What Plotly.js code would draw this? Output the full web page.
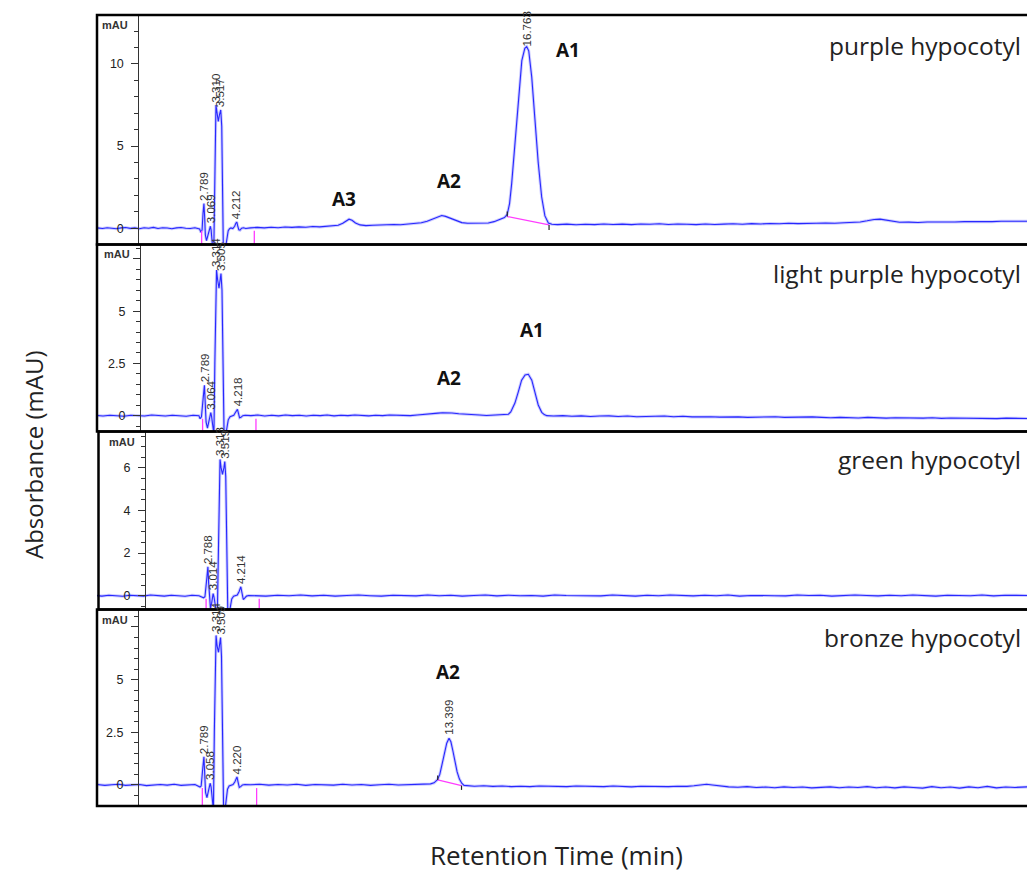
<!DOCTYPE html>
<html><head><meta charset="utf-8">
<script src="https://cdn.plot.ly/plotly-3.0.1.min.js"></script>
<style>html,body{margin:0;padding:0;background:#fff}</style>
</head><body>
<div id="chart" style="width:1027px;height:874px"></div>
<script>
// ---------------- DATA ----------------
const sampleNames = ['purple hypocotyl', 'light purple hypocotyl', 'green hypocotyl', 'bronze hypocotyl'];

// Panel 1: purple hypocotyl (time in min, absorbance in mAU)
const p1T = [-1.84,-1.6,-1.4,-1.2,-1.0,-0.8,-0.6,-0.4,-0.2,0,0.2,0.4,0.6,0.8,1.0,1.2,1.4,1.6,1.8,2.0,2.2,2.4,2.6,
  2.66,2.71,2.75,2.789,2.82,2.85,2.9,2.95,3.0,3.04,3.069,3.1,3.14,3.18,3.22,3.25,3.28,3.31,3.35,3.41,3.46,3.517,3.56,3.6,3.63,3.68,3.73,3.78,3.84,3.9,3.96,4.04,4.12,4.17,4.212,4.25,4.3,4.35,4.42,4.5,4.6,
  4.8,5.1,5.4,5.7,6.0,6.3,6.6,6.9,7.2,7.5,7.8,8.1,8.4,
  8.6,8.8,8.95,9.07,9.2,9.35,9.55,9.8,
  10.1,10.4,10.7,11.0,11.3,11.6,11.9,12.2,
  12.45,12.7,12.9,13.08,13.25,13.45,13.7,13.95,14.2,
  14.5,14.8,15.1,15.35,15.6,15.8,
  15.92,16.02,16.11,16.26,16.40,16.55,16.68,16.763,16.85,16.98,17.12,17.26,17.41,17.55,17.7,17.85,
  18.1,18.5,18.9,19.3,19.7,20.1,20.5,20.9,21.3,21.7,22.1,22.5,22.9,23.3,23.7,24.1,24.5,24.9,25.3,25.7,26.1,26.5,26.9,27.3,27.7,28.1,28.5,28.9,29.3,29.7,30.1,30.5,30.9,
  31.2,31.5,31.8,32.06,32.3,32.6,32.9,
  33.3,33.7,34.1,34.5,34.9,35.3,35.7,36.1,36.5,36.9,37.3,37.7,38.1,38.5];
const p1A = [0.02,-0.02,0.03,0.0,-0.03,0.02,0.04,-0.01,0.02,-0.03,0.03,0.0,0.05,-0.02,0.03,0.01,-0.03,0.02,0.04,0.0,-0.02,0.03,-0.05,
  -0.25,-0.1,0.9,1.5,0.7,-0.4,-0.75,-0.5,-0.1,0.08,0.12,-0.1,-0.8,-1.4,-1.0,3.0,6.6,7.5,7.1,6.5,6.9,7.2,6.2,2.5,-1.3,-1.6,-1.1,-0.5,-0.15,-0.03,0.02,-0.02,0.12,0.3,0.38,0.15,-0.1,-0.12,0.0,0.03,-0.02,
  0.02,0.05,0.02,0.06,0.03,0.07,0.05,0.08,0.06,0.1,0.08,0.12,0.14,
  0.18,0.3,0.47,0.55,0.48,0.32,0.2,0.16,
  0.18,0.2,0.19,0.23,0.21,0.25,0.27,0.33,
  0.42,0.56,0.7,0.77,0.72,0.6,0.45,0.34,0.3,
  0.31,0.28,0.32,0.4,0.52,0.65,
  0.85,1.5,2.7,5.2,8.0,10.2,10.95,11.05,10.8,9.2,6.6,4.0,1.9,0.75,0.32,0.24,
  0.22,0.25,0.21,0.24,0.22,0.26,0.23,0.25,0.22,0.26,0.24,0.27,0.23,0.26,0.24,0.22,0.26,0.23,0.25,0.27,0.24,0.28,0.26,0.29,0.27,0.3,0.28,0.31,0.3,0.32,0.3,0.33,0.34,
  0.38,0.45,0.53,0.55,0.5,0.4,0.36,
  0.37,0.35,0.38,0.37,0.39,0.38,0.4,0.39,0.41,0.4,0.42,0.41,0.42,0.42];

// Panel 2: light purple hypocotyl
const p2T = [-1.9,-1.6,-1.3,-1.0,-0.7,-0.4,-0.1,0.2,0.5,0.8,1.1,1.4,1.7,2.0,2.3,2.55,
  2.6,2.66,2.74,2.789,2.82,2.86,2.92,2.98,3.03,3.064,3.1,3.15,3.2,3.24,3.28,3.314,3.36,3.42,3.47,3.505,3.55,3.6,3.64,3.7,3.76,3.82,3.9,3.98,4.06,4.13,4.218,4.26,4.31,4.37,4.45,4.55,
  4.8,5.1,5.4,5.7,6.0,6.3,6.6,6.9,7.2,7.5,7.8,8.1,8.4,8.7,9.0,9.3,9.6,9.9,10.2,10.5,10.8,11.1,11.4,11.7,12.0,
  12.3,12.6,12.9,13.1,13.28,13.5,13.8,14.1,14.4,14.7,15.0,15.3,15.6,15.85,
  15.95,16.05,16.15,16.23,16.38,16.52,16.67,16.81,16.96,17.1,17.24,17.39,17.5,17.61,
  17.9,18.3,18.7,19.1,19.5,19.9,20.3,20.7,21.1,21.5,21.9,22.3,22.7,23.1,23.5,23.9,24.3,24.7,25.1,25.5,25.9,26.3,26.7,27.1,27.5,27.9,28.3,28.7,29.1,29.5,29.9,30.3,30.7,31.1,31.5,31.9,32.3,32.7,33.1,33.5,33.9,34.3,34.7,35.1,35.5,35.9,36.3,36.7,37.1,37.5,37.9,38.5];
const p2A = [0.01,-0.02,0.02,0.0,-0.03,0.02,0.01,-0.02,0.03,0.0,-0.02,0.02,0.01,-0.03,0.02,0.0,
  -0.15,-0.05,0.9,1.45,0.7,-0.3,-0.6,-0.3,0.05,0.15,-0.05,-0.6,-0.9,2.5,6.2,6.97,6.5,6.1,6.5,6.8,6.0,2.5,-0.9,-1.0,-0.6,-0.2,-0.05,0.0,0.02,0.15,0.3,0.12,-0.1,-0.08,0.0,0.02,
  0.0,0.03,-0.02,0.02,-0.01,0.03,0.0,0.02,-0.02,0.02,0.0,0.03,-0.01,0.02,0.0,0.03,0.01,-0.01,0.02,0.0,0.03,0.01,0.02,0.0,0.03,
  0.05,0.08,0.12,0.14,0.15,0.13,0.09,0.06,0.04,0.03,0.01,0.03,0.02,0.05,
  0.07,0.18,0.38,0.6,1.15,1.7,1.95,1.98,1.7,1.07,0.51,0.16,0.05,0.0,
  -0.02,0.0,-0.03,-0.01,-0.04,-0.02,-0.01,-0.04,-0.02,-0.05,-0.03,-0.04,-0.02,-0.05,-0.03,-0.06,-0.04,-0.05,-0.07,-0.05,-0.06,-0.08,-0.06,-0.07,-0.05,-0.08,-0.07,-0.09,-0.06,-0.08,-0.1,-0.08,-0.09,-0.11,-0.08,-0.1,-0.12,-0.1,-0.11,-0.09,-0.12,-0.1,-0.13,-0.11,-0.12,-0.1,-0.13,-0.12,-0.14,-0.12,-0.13,-0.14];

// Panel 3: green hypocotyl
const p3T = [-2.1,-1.8,-1.5,-1.2,-0.9,-0.6,-0.3,0,0.3,0.6,0.9,1.2,1.5,1.8,2.1,2.4,2.6,
  2.66,2.74,2.788,2.82,2.86,2.9,2.95,2.99,3.014,3.05,3.1,3.16,3.2,3.24,3.28,3.313,3.36,3.42,3.48,3.519,3.56,3.61,3.65,3.7,3.76,3.82,3.9,3.98,4.06,4.14,4.214,4.26,4.32,4.38,4.46,4.55,
  4.8,5.3,5.8,6.3,6.8,7.3,7.8,8.3,8.8,9.3,9.8,10.3,10.8,11.3,11.8,12.3,12.8,13.3,13.8,14.3,14.8,15.3,15.8,16.3,16.8,17.3,17.8,18.3,18.8,19.3,19.8,20.3,20.8,21.3,21.8,22.3,22.8,23.3,23.8,24.3,24.8,25.3,25.8,26.3,26.8,27.3,27.8,28.3,28.8,29.3,29.8,30.3,30.8,31.3,31.8,32.3,32.8,33.3,33.8,34.3,34.8,35.3,35.8,36.3,36.8,37.3,37.8,38.3];
const p3A = [0.01,-0.02,0.02,0.0,-0.03,0.02,0.01,-0.02,0.03,0.0,-0.02,0.02,0.01,-0.03,0.02,0.0,-0.1,
  -0.05,0.8,1.36,0.6,-0.3,-0.6,-0.35,0.02,0.1,-0.05,-0.5,-0.8,-0.6,2.5,5.7,6.4,6.0,5.7,6.0,6.3,5.6,2.0,-0.8,-0.9,-0.55,-0.15,-0.02,0.0,0.03,0.2,0.42,0.15,-0.18,-0.12,-0.02,0.01,
  0.01,-0.02,0.02,0.0,0.03,-0.01,0.02,-0.02,0.01,0.03,0.0,-0.02,0.02,0.01,-0.01,0.03,0.0,0.02,-0.02,0.01,0.03,-0.01,0.02,0.0,0.01,-0.02,0.03,0.01,0.0,0.02,-0.01,0.03,0.01,-0.02,0.02,0.0,0.03,0.01,-0.01,0.02,0.0,0.03,-0.02,0.01,0.02,0.0,-0.01,0.03,0.01,0.02,-0.02,0.0,0.03,0.01,-0.01,0.02,0.0,0.03,0.01,-0.02,0.02,0.01,0.0,0.03,-0.01,0.02,0.0,0.01];

// Panel 4: bronze hypocotyl
const p4T = [-1.84,-1.5,-1.2,-0.9,-0.6,-0.3,0,0.3,0.6,0.9,1.2,1.5,1.8,2.1,2.4,2.62,
  2.67,2.74,2.789,2.82,2.86,2.92,2.97,3.02,3.058,3.1,3.15,3.2,3.24,3.28,3.314,3.36,3.42,3.47,3.509,3.55,3.6,3.64,3.7,3.75,3.81,3.88,3.96,4.05,4.13,4.22,4.27,4.32,4.38,4.46,4.56,
  4.8,5.2,5.6,6.0,6.4,6.8,7.2,7.6,8.0,8.4,8.8,9.2,9.6,10.0,10.4,10.8,11.2,11.6,12.0,12.3,
  12.6,12.75,12.9,13.0,13.1,13.2,13.3,13.399,13.48,13.57,13.66,13.75,13.85,13.95,14.05,14.2,
  14.5,14.9,15.3,15.7,16.1,16.5,16.9,17.3,17.7,18.1,18.5,18.9,19.3,19.7,20.1,20.5,20.9,21.3,21.7,22.1,22.5,22.9,23.3,23.7,
  24.0,24.3,24.55,24.8,25.1,
  25.5,25.9,26.3,26.7,27.1,27.5,27.9,28.3,28.7,29.1,29.5,29.9,30.3,30.7,31.1,31.5,31.9,32.3,32.7,33.1,33.5,33.9,34.3,34.7,35.1,35.5,35.9,36.3,36.7,37.1,37.5,37.9,38.5];
const p4A = [0.02,-0.02,0.01,0.03,-0.02,0.0,0.02,-0.03,0.01,0.02,-0.01,0.03,-0.02,0.01,0.02,-0.1,
  -0.05,0.8,1.34,0.6,-0.35,-0.6,-0.3,0.02,0.08,-0.1,-0.9,-1.2,2.5,6.3,7.1,6.6,6.3,6.7,7.0,6.1,2.5,-1.1,-1.2,-0.7,-0.2,-0.05,0.0,0.02,0.15,0.38,0.12,-0.12,-0.08,0.0,0.02,
  0.01,0.03,-0.01,0.02,0.0,0.03,-0.02,0.02,0.01,-0.01,0.03,0.0,0.02,-0.02,0.01,0.03,0.0,0.02,0.01,0.03,
  0.05,0.1,0.25,0.5,0.95,1.5,1.98,2.22,2.05,1.6,1.1,0.62,0.28,0.08,-0.02,-0.04,
  -0.06,-0.04,-0.07,-0.05,-0.08,-0.06,-0.08,-0.05,-0.07,-0.06,-0.08,-0.05,-0.07,-0.06,-0.08,-0.05,-0.07,-0.09,-0.06,-0.07,-0.05,-0.08,-0.06,-0.07,
  -0.04,0.0,0.03,0.0,-0.05,
  -0.09,-0.11,-0.08,-0.12,-0.1,-0.13,-0.09,-0.12,-0.1,-0.14,-0.11,-0.09,-0.13,-0.1,-0.12,-0.08,-0.13,-0.1,-0.14,-0.09,-0.12,-0.15,-0.08,-0.13,-0.1,-0.15,-0.09,-0.13,-0.07,-0.14,-0.1,-0.12,-0.09];

// Peak retention-time labels
const p1PeakT = [2.789, 3.069, 3.310, 3.517, 4.212, 16.763];
const p1PeakA = [1.5, 0.12, 7.5, 7.2, 0.38, 10.9];
const p2PeakT = [2.789, 3.064, 3.314, 3.505, 4.218];
const p2PeakA = [1.45, 0.15, 6.97, 6.8, 0.3];
const p3PeakT = [2.788, 3.014, 3.313, 3.519, 4.214];
const p3PeakA = [1.36, 0.1, 6.4, 6.3, 0.42];
const p4PeakT = [2.789, 3.058, 3.314, 3.509, 4.220, 13.399];
const p4PeakA = [1.34, 0.08, 7.1, 7.0, 0.38, 2.22];

// Compound labels (A1, A2, A3)
const p1CompLbl = ['A3', 'A2', 'A1'], p1CompT = [8.85, 13.4, 18.56], p1CompA = [1.78, 2.88, 10.87];
const p2CompLbl = ['A2', 'A1'], p2CompT = [13.38, 16.97], p2CompA = [1.81, 4.11];
const p3CompLbl = [], p3CompT = [], p3CompA = [];
const p4CompLbl = ['A2'], p4CompT = [13.37], p4CompA = [5.36];

// Integration event marks (min)
const p1EventT = [2.69, 4.97];
const p2EventT = [2.71, 5.02];
const p3EventT = [2.71, 5.01];
const p4EventT = [2.72, 5.07];

// Integration baselines [start, end]
const p1IntT = [15.92, 17.73], p1IntA = [0.71, 0.20];
const p4IntT = [12.91, 13.94], p4IntA = [0.24, -0.03];

// Y tick values
const p1Ticks = [0, 5, 10], p1TickTxt = ['0', '5', '10'];
const p2Ticks = [0, 2.5, 5, 7.5], p2TickTxt = ['0', '2.5', '5', ''];
const p3Ticks = [0, 2, 4, 6], p3TickTxt = ['0', '2', '4', '6'];
const p4Ticks = [0, 2.5, 5, 7.5], p4TickTxt = ['0', '2.5', '5', ''];

// ---------------- LAYOUT GEOMETRY ----------------
const W = 1027, H = 874, ML = 97, MR = 0, MT = 15, MB = 68;
const PW = W - ML - MR;           // plot width px
const PPM = 23.1;                 // px per minute
const geo = [
  {dom: [0.7099, 1.0],    yr: [-0.99, 12.98], t0px: 139.5, axpx: 138.3, boxL: 97, minor: 1,   tv: p1Ticks, tt: p1TickTxt},
  {dom: [0.4734, 0.7099], yr: [-0.76, 8.19],  t0px: 140.0, axpx: 140.0, boxL: 97, minor: 0.5, tv: p2Ticks, tt: p2TickTxt},
  {dom: [0.2484, 0.4734], yr: [-0.65, 7.71],  t0px: 143.5, axpx: 145.0, boxL: 98.5, minor: 0.5, tv: p3Ticks, tt: p3TickTxt},
  {dom: [0.0, 0.2484],    yr: [-1.0, 8.33],   t0px: 139.5, axpx: 138.0, boxL: 97, minor: 0.5, tv: p4Ticks, tt: p4TickTxt}
];
const titleYpx = [46, 273, 459, 637];

const series = [[p1T, p1A], [p2T, p2A], [p3T, p3A], [p4T, p4A]];
const peaks = [[p1PeakT, p1PeakA], [p2PeakT, p2PeakA], [p3PeakT, p3PeakA], [p4PeakT, p4PeakA]];
const comps = [[p1CompLbl, p1CompT, p1CompA], [p2CompLbl, p2CompT, p2CompA], [p3CompLbl, p3CompT, p3CompA], [p4CompLbl, p4CompT, p4CompA]];
const events = [p1EventT, p2EventT, p3EventT, p4EventT];
const integ = [[p1IntT, p1IntA], null, null, [p4IntT, p4IntA]];

const BLUE = 'rgb(40,40,255)', HALO = 'rgba(110,110,255,0.35)', MAG = '#ff3cff';
const traces = [], annotations = [], shapes = [];
const layout = {
  width: W, height: H, margin: {l: ML, r: MR, t: MT, b: MB},
  paper_bgcolor: '#fff', plot_bgcolor: '#fff', showlegend: false,
  font: {family: 'Liberation Sans, Arial, sans-serif', color: '#333'}
};
const pyFromPx = px => (H - MB - px) / (H - MT - MB);
const pxFromPx = px => (px - ML) / PW;

geo.forEach((g, i) => {
  const n = i + 1, sx = n === 1 ? '' : String(n);
  const xa = 'x' + sx, ya = 'y' + sx;
  layout['xaxis' + sx] = {
    domain: [0, 1], anchor: ya, range: [-(g.t0px - ML) / PPM, (W - g.t0px) / PPM],
    visible: false, fixedrange: true
  };
  layout['yaxis' + sx] = {
    domain: g.dom, range: g.yr, anchor: 'free', position: pxFromPx(g.axpx),
    showline: true, linecolor: '#333', linewidth: 1, showgrid: false, zeroline: false,
    ticks: 'outside', ticklen: 7, tickwidth: 1, tickcolor: '#333',
    tickmode: 'array', tickvals: g.tv, ticktext: g.tt, ticklabelstandoff: 5,
    tickfont: {family: 'Liberation Sans, Arial, sans-serif', size: 12.5, color: '#222'},
    minor: {tick0: 0, dtick: g.minor, ticks: 'outside', ticklen: 4, tickcolor: '#333', tickwidth: 1},
    fixedrange: true
  };
  // chromatogram halo + line
  traces.push({x: series[i][0], y: series[i][1], xaxis: xa, yaxis: ya, type: 'scatter', mode: 'lines',
    line: {color: HALO, width: 3}, hoverinfo: 'skip'});
  traces.push({x: series[i][0], y: series[i][1], xaxis: xa, yaxis: ya, type: 'scatter', mode: 'lines',
    line: {color: BLUE, width: 1.1}, hoverinfo: 'skip'});
  // integration event marks
  const ex = [], ey = [];
  events[i].forEach(t => { ex.push(t, t, null); ey.push(-0.15, g.yr[0], null); });
  traces.push({x: ex, y: ey, xaxis: xa, yaxis: ya, mode: 'lines', line: {color: MAG, width: 1.3}, hoverinfo: 'skip'});
  // integration baseline
  if (integ[i]) {
    const [it, ia] = integ[i];
    traces.push({x: it, y: ia, xaxis: xa, yaxis: ya, mode: 'lines', line: {color: MAG, width: 1.2}, hoverinfo: 'skip'});
    const d = (g.yr[1] - g.yr[0]) * 0.022;
    traces.push({x: [it[0], it[0], null, it[1], it[1]], y: [ia[0], ia[0] + d, null, ia[1] - d, ia[1]],
      xaxis: xa, yaxis: ya, mode: 'lines', line: {color: '#222', width: 1.2}, hoverinfo: 'skip'});
  }
  // box
  shapes.push({type: 'rect', xref: 'paper', yref: ya + ' domain', x0: pxFromPx(g.boxL), x1: 1.02, y0: 0, y1: 1,
    line: {color: '#000', width: 2.5}, fillcolor: 'rgba(0,0,0,0)', layer: 'above'});
  // peak labels
  peaks[i][0].forEach((t, k) => annotations.push({
    xref: xa, yref: ya, x: t, y: peaks[i][1][k], text: t.toFixed(3), textangle: -90,
    xanchor: 'center', yanchor: 'bottom', yshift: 2, showarrow: false, borderpad: 0,
    font: {family: 'Liberation Sans, Arial, sans-serif', size: 11.5, color: '#333'}
  }));
  // compound labels
  comps[i][0].forEach((lbl, k) => annotations.push({
    xref: xa, yref: ya, x: comps[i][1][k], y: comps[i][2][k], text: '<b>' + lbl + '</b>',
    xanchor: 'center', yanchor: 'middle', showarrow: false,
    font: {family: 'Open Sans, sans-serif', size: 19, color: '#111'}
  }));
  // mAU label
  annotations.push({xref: 'paper', yref: ya + ' domain', x: pxFromPx(g.axpx - 9), y: 1, yshift: -3,
    xanchor: 'right', yanchor: 'top', text: '<b>mAU</b>', showarrow: false, borderpad: 0,
    font: {family: 'Liberation Sans, Arial, sans-serif', size: 11, color: '#333'}});
  // sample title
  annotations.push({xref: 'paper', yref: 'paper', x: pxFromPx(1022), y: pyFromPx(titleYpx[i]),
    xanchor: 'right', yanchor: 'middle', text: sampleNames[i], showarrow: false, borderpad: 0,
    font: {family: 'Open Sans, sans-serif', size: 24.5, color: '#222'}});
});

// axis titles
annotations.push({xref: 'paper', yref: 'paper', x: pxFromPx(33), y: pyFromPx(455), textangle: -90,
  xanchor: 'center', yanchor: 'middle', text: 'Absorbance (mAU)', showarrow: false,
  font: {family: 'Open Sans, sans-serif', size: 24, color: '#222'}});
annotations.push({xref: 'paper', yref: 'paper', x: pxFromPx(556), y: pyFromPx(855),
  xanchor: 'center', yanchor: 'middle', text: 'Retention Time (min)', showarrow: false, borderpad: 0,
  font: {family: 'Open Sans, sans-serif', size: 26, color: '#222'}});

layout.shapes = shapes;
layout.annotations = annotations;
Plotly.newPlot('chart', traces, layout, {staticPlot: true, displayModeBar: false});
</script>
</body></html>
